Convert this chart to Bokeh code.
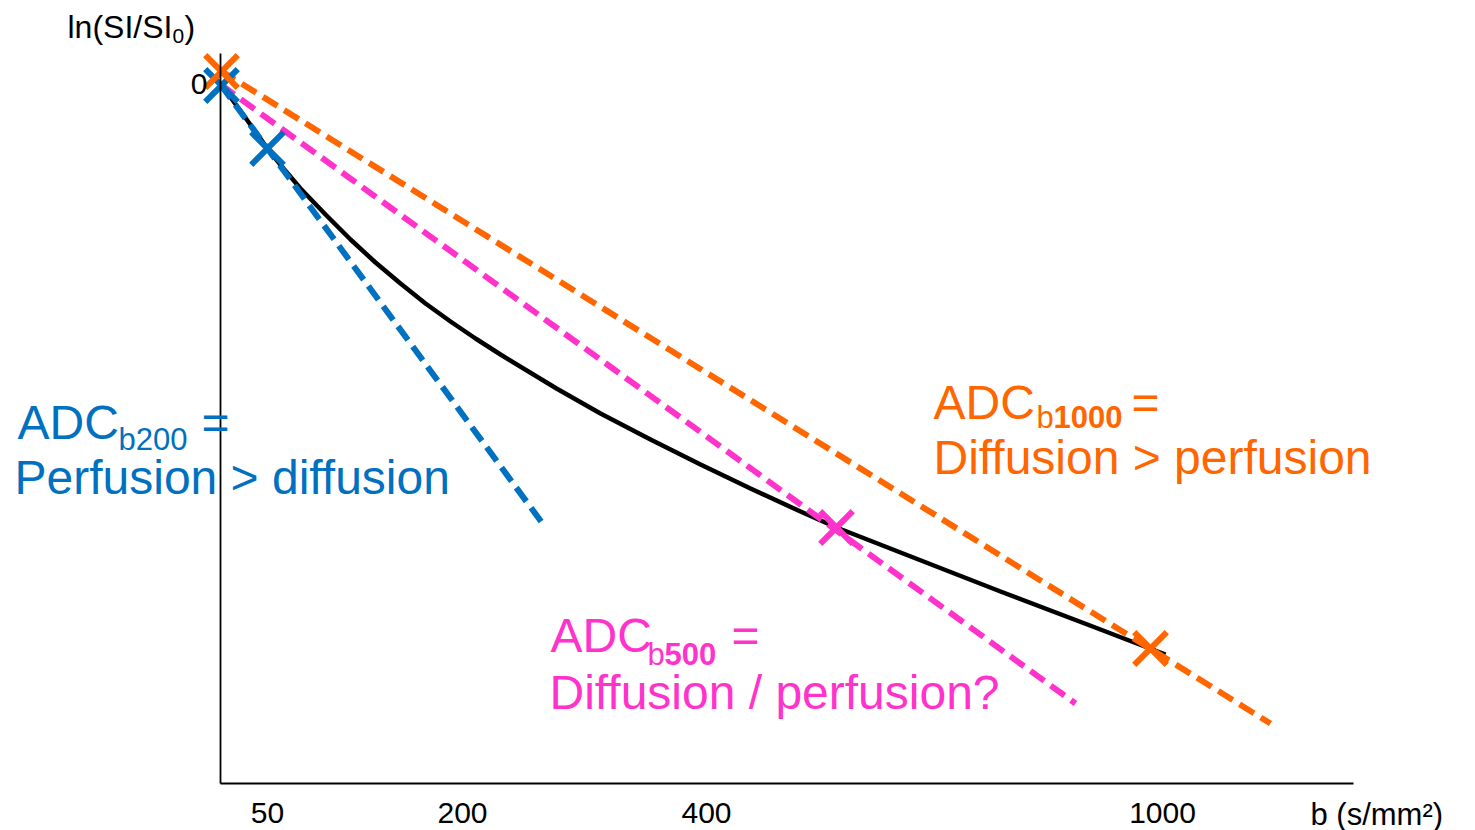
from bokeh.plotting import figure
from bokeh.models import Range1d, FixedTicker, Label
from bokeh.embed import file_html
from bokeh.resources import INLINE

# ---- schematic data (x: position along b axis, y: ln(SI/SI0) in arbitrary units) ----
b_ticks = [47, 242, 486, 942]
b_tick_labels = ["50", "200", "400", "1000"]
ln_ticks = [0]

curve_b = [0, 24, 47, 63, 80, 105, 130, 155, 180, 205, 230, 255, 280, 336, 380, 430,
           480, 530, 580, 616, 680, 780, 880, 945]
curve_ln = [0.0, -0.33, -0.65, -0.85, -1.05, -1.31, -1.56, -1.79, -2.00, -2.20,
            -2.38, -2.55, -2.71, -3.05, -3.30, -3.56, -3.81, -4.05, -4.28, -4.44,
            -4.69, -5.08, -5.46, -5.71]

adc200_b = [0, 325]
adc200_ln = [-0.01, -4.44]
adc500_b = [0, 855]
adc500_ln = [-0.01, -6.20]
adc1000_b = [0, 1050]
adc1000_ln = [0.13, -6.40]

blue_pts_b = [1, 47]
blue_pts_ln = [-0.02, -0.65]
pink_pts_b = [616]
pink_pts_ln = [-4.44]
orange_pts_b = [1, 930]
orange_pts_ln = [0.12, -5.65]

BLUE = "#0070C0"
PINK = "#FF33CC"
ORANGE = "#FF6600"
FONT = "Liberation Sans"

p = figure(width=1475, height=830, output_backend="svg", toolbar_location=None,
           x_range=Range1d(-220, 1255), y_range=Range1d(-7.47, 0.83),
           min_border=0, min_border_left=0, min_border_right=0,
           min_border_top=0, min_border_bottom=0)
p.outline_line_color = None
p.xgrid.visible = False
p.ygrid.visible = False
p.background_fill_color = "white"
p.border_fill_color = "white"

for ax in (p.xaxis[0], p.yaxis[0]):
    ax.axis_line_color = "black"
    ax.axis_line_width = 1.8
    ax.major_tick_line_color = None
    ax.minor_tick_line_color = None
    ax.major_tick_out = 0
    ax.major_tick_in = 0
    ax.minor_tick_out = 0
    ax.minor_tick_in = 0
    ax.major_label_text_font = FONT
    ax.major_label_text_color = "black"

xa = p.xaxis[0]
xa.fixed_location = -7.00
xa.bounds = (0, 1133)
xa.ticker = FixedTicker(ticks=b_ticks)
xa.major_label_overrides = {t: l for t, l in zip(b_ticks, b_tick_labels)}
xa.major_label_text_font_size = "30px"
xa.major_label_standoff = 19

ya = p.yaxis[0]
ya.fixed_location = 0
ya.bounds = (-7.00, 0.30)
ya.ticker = FixedTicker(ticks=ln_ticks)
ya.major_label_text_font_size = "30px"
ya.major_label_standoff = 13

# curve and tangents
p.line(curve_b, curve_ln, line_color="black", line_width=4.5, line_join="round")
p.line(adc200_b, adc200_ln, line_color=BLUE, line_width=6, line_dash="17 8")
p.line(adc500_b, adc500_ln, line_color=PINK, line_width=6, line_dash="17 8")
p.line(adc1000_b, adc1000_ln, line_color=ORANGE, line_width=6, line_dash="17 8")

p.scatter(blue_pts_b, blue_pts_ln, marker="x", size=46, line_color=BLUE, line_width=6)
p.scatter(pink_pts_b, pink_pts_ln, marker="x", size=46, line_color=PINK, line_width=6)
p.scatter(orange_pts_b, orange_pts_ln, marker="x", size=46, line_color=ORANGE, line_width=6)


def lab(x, y, text, color, size, bold=False):
    p.add_layout(Label(x=x, y=y, text=text, text_color=color, text_font=FONT,
                       text_font_size=f"{size}px", text_align="left",
                       text_baseline="alphabetic",
                       text_font_style="bold" if bold else "normal"))


# y axis title with subscript
lab(-153, 0.568, "ln(SI/SI", "black", 32)
lab(-48, 0.478, "0", "black", 21)
lab(-36, 0.568, ")", "black", 32)

# x axis title
lab(1090, -7.305, "b (s/mm²)", "black", 31)

# ADC b200 annotation
lab(-203, -3.392, "ADC", BLUE, 48)
lab(-102, -3.555, "b200", BLUE, 31)
lab(-19, -3.392, "=", BLUE, 48)
lab(-206, -3.942, "Perfusion > diffusion", BLUE, 48)

# ADC b1000 annotation
lab(713, -3.192, "ADC", ORANGE, 48)
lab(816, -3.335, "b", ORANGE, 31)
lab(833, -3.335, "1000", ORANGE, 31, bold=True)
lab(911, -3.192, "=", ORANGE, 48)
lab(713, -3.742, "Diffusion > perfusion", ORANGE, 48)

# ADC b500 annotation
lab(330, -5.522, "ADC", PINK, 48)
lab(427, -5.705, "b", PINK, 31)
lab(444, -5.705, "500", PINK, 31, bold=True)
lab(511, -5.522, "=", PINK, 48)
lab(329, -6.092, "Diffusion / perfusion?", PINK, 48)

open("out.html", "w").write(file_html(p, INLINE))
